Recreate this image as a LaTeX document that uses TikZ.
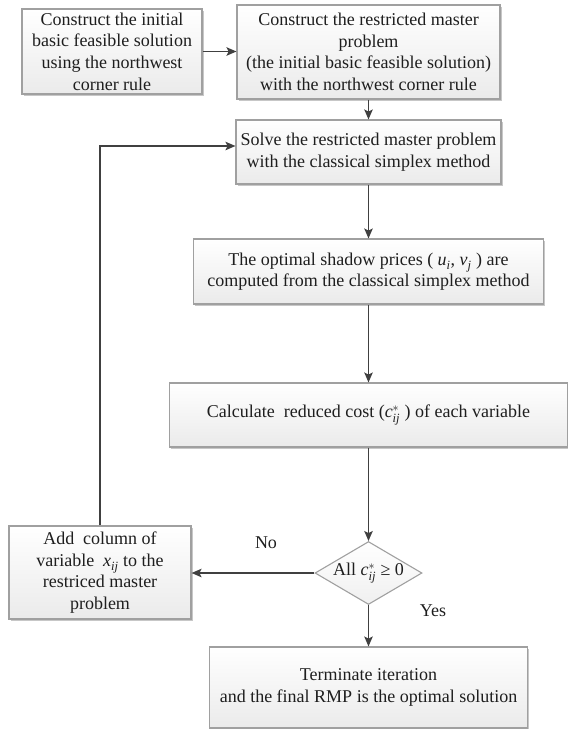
\documentclass[tikz,border=0pt]{standalone}
\usepackage{amsmath}
\usepackage{fontspec}
\setmainfont{Liberation Serif}
\usetikzlibrary{shapes.geometric,shadows,arrows.meta}
\definecolor{boxline}{HTML}{A0A0A0}
\definecolor{arr}{HTML}{404040}
\definecolor{txt}{HTML}{1E1E1E}
\newcommand{\vari}[3]{$\textit{#1}^{#2}_{\textit{#3}}$}
\begin{document}
\begin{tikzpicture}[x=1pt,y=-1pt,
  every node/.style={text=txt,font=\fontsize{18}{21.6}\selectfont},
  procbox/.style={draw=boxline,line width=1.1pt,rectangle,align=center,inner sep=0pt,
    top color=white,bottom color=black!8,
    drop shadow={shadow xshift=1.6pt,shadow yshift=-1.6pt,fill=black,opacity=0.22}},
  decbox/.style={draw=boxline,line width=1.1pt,diamond,inner sep=0pt,
    top color=white,bottom color=black!6},
  conn/.style={draw=arr,line width=1.6pt,-{Stealth[length=10pt,width=8.5pt,inset=2.2pt]}},
  lbl/.style={inner sep=0pt}]
\useasboundingbox (0,0) rectangle (568,729);
\node[procbox,minimum width=180pt,minimum height=85pt] (b1) at (112,51.5)
  {Construct the initial\\basic feasible solution\\using the northwest\\corner rule};
\node[procbox,minimum width=263pt,minimum height=94pt] (b2) at (368.5,52)
  {Construct the restricted master\\problem\\(the initial basic feasible solution)\\with the northwest corner rule};
\node[procbox,minimum width=265pt,minimum height=64pt] (b3) at (368.5,152)
  {Solve the restricted master problem\\with the classical simplex method};
\node[procbox,minimum width=350pt,minimum height=65pt] (b4) at (368.5,271.5)
  {The optimal shadow prices ( \vari{u}{}{i}, \vari{v}{}{j} ) are\\computed from the classical simplex method};
\node[procbox,minimum width=398pt,minimum height=64pt] (b5) at (368.5,415)
  {Calculate\ \ reduced cost (\vari{c}{*}{ij} ) of each variable};
\node[decbox,minimum width=107pt,minimum height=63pt] (d) at (368.5,573) {};
\node[lbl] (dt) at (368.5,573) {All \vari{c}{*}{ij} ≥ 0};
\node[procbox,minimum width=182pt,minimum height=93pt] (b6) at (100,572.5)
  {Add\ \ column of\\variable\ \ \vari{x}{}{ij} to the\\restriced master\\problem};
\node[procbox,minimum width=318pt,minimum height=81pt] (b7) at (368.5,687.5)
  {Terminate iteration\\and the final RMP is the optimal solution};
\node[lbl] (no) at (266,543) {No};
\node[lbl] (yes) at (433,611) {Yes};
\coordinate (loopin) at (b3.west |- 0,146);
\draw[conn] (b1.east) -- (b1.east -| b2.west);
\draw[conn] (b2.south) -- (b3.north);
\draw[conn] (b3.south) -- (b4.north);
\draw[conn] (b4.south) -- (b5.north);
\draw[conn] (b5.south) -- (d.north);
\draw[conn] (d.south) -- (b7.north);
\draw[conn] (d.west) -- (d.west -| b6.east);
\draw[conn] (b6.north) |- (loopin);
\end{tikzpicture}
\end{document}
